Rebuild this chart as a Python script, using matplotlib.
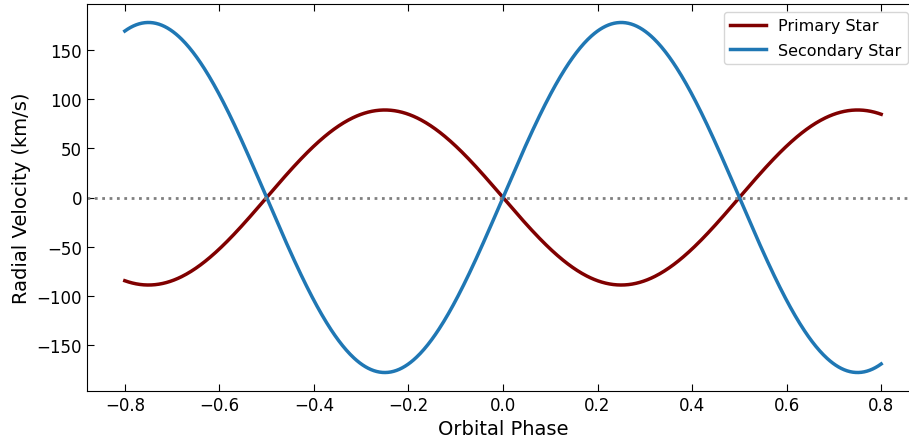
import numpy as np
import matplotlib.pyplot as plt

# orbit model parameters (semi-amplitudes in km/s)
K_primary = 89.0
K_secondary = 178.0
phase_min, phase_max = -0.8, 0.8

phase = np.linspace(phase_min, phase_max, 800)
v_primary = -K_primary * np.sin(2 * np.pi * phase)
v_secondary = K_secondary * np.sin(2 * np.pi * phase)

fig = plt.figure(figsize=(9.09, 4.39), dpi=100)
ax = fig.add_axes([87/909, 1-392/439, 832/909, 387/439])

ax.plot(phase, v_primary, color='#800000', lw=2.5, label='Primary Star')
ax.plot(phase, v_secondary, color='#1f77b4', lw=2.5, label='Secondary Star')
ax.axhline(0, color='gray', ls=':', lw=2)

ax.set_xlim(-0.88, 0.88)
ax.set_ylim(-196.8, 196.8)
ax.set_xticks([-0.8, -0.6, -0.4, -0.2, 0.0, 0.2, 0.4, 0.6, 0.8])
ax.set_yticks([-150, -100, -50, 0, 50, 100, 150])
ax.tick_params(direction='in', top=True, right=True, labelsize=12, length=5)
ax.set_xlabel('Orbital Phase', fontsize=14)
ax.set_ylabel('Radial Velocity (km/s)', fontsize=14)

ax.legend(loc='upper right', fontsize=11.5, bbox_to_anchor=(908/909, 1-13/439),
          bbox_transform=fig.transFigure, borderaxespad=0, handlelength=2.2,
          labelspacing=0.6)

fig.savefig('out.png', dpi=100)
